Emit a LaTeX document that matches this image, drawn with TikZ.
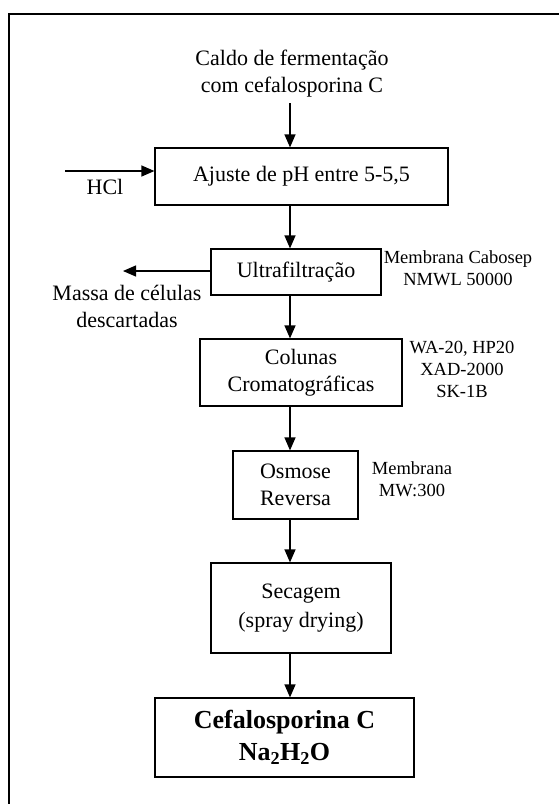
\documentclass[tikz,border=0pt]{standalone}
\usepackage{fontspec}
\setmainfont{Liberation Serif}
\usetikzlibrary{arrows.meta,positioning,calc}

\begin{document}
\begin{tikzpicture}[x=1pt,y=-1pt,
  etapa/.style={draw,line width=1.2pt,align=center,inner sep=0pt,
    font=\fontsize{22}{27}\selectfont},
  nota/.style={align=center,inner sep=0pt,font=\fontsize{18.5}{22}\selectfont},
  texto/.style={align=center,inner sep=0pt,font=\fontsize{22}{27}\selectfont},
  fluxo/.style={-{Triangle[length=13pt,width=11pt]},line width=1.2pt}]
\useasboundingbox (0,0) rectangle (559,804);
% moldura
\draw[line width=1.2pt] (559,14) -- (9,14) -- (9,804);
\coordinate (eixo) at (290,0);
% entrada
\node[texto] (caldo) at (292,74) {Caldo de fermentação\\com cefalosporina C};
% etapas do processo
\node[etapa,minimum width=293pt,minimum height=57pt] (ajuste) at (301.5,176.5) {Ajuste de pH entre 5-5,5};
\node[etapa,minimum width=170pt,minimum height=46pt] (ultra) at (296,272) {Ultrafiltração};
\node[etapa,minimum width=202pt,minimum height=67pt] (colunas) at (301,372.5) {Colunas\\Cromatográficas};
\node[etapa,minimum width=125pt,minimum height=68pt] (osmose) at (295.5,485) {Osmose\\Reversa};
\node[etapa,minimum width=180pt,minimum height=90pt,font=\fontsize{22}{29}\selectfont] (secagem) at (301,608) {Secagem\\(spray drying)};
\node[etapa,minimum width=259pt,minimum height=79pt,font=\fontsize{26}{32}\selectfont\bfseries] (produto) at (284.5,737.5) {Cefalosporina C\\Na\textsubscript{2}H\textsubscript{2}O};
% notas laterais
\node[texto] (hcl) at (105,187) {HCl};
\node[texto] (massa) at (127,306) {Massa de células\\descartadas};
\node[nota] (cabosep) at (458,268) {Membrana Cabosep\\NMWL 50000};
\node[nota] (resinas) at (462,369) {WA-20, HP20\\XAD-2000\\SK-1B};
\node[nota] (mw) at (412,479) {Membrana\\MW:300};
% setas
\coordinate (c0) at (290,103);
\coordinate (h0) at (65,171);
\coordinate (d0) at (123,271);
\draw[fluxo] (c0) -- (c0 |- ajuste.north);
\draw[fluxo] (h0) -- (h0 -| ajuste.west);
\draw[fluxo] (ajuste.south -| eixo) -- (ultra.north -| eixo);
\draw[fluxo] (ultra.west |- d0) -- (d0);
\draw[fluxo] (ultra.south -| eixo) -- (colunas.north -| eixo);
\draw[fluxo] (colunas.south -| eixo) -- (osmose.north -| eixo);
\draw[fluxo] (osmose.south -| eixo) -- (secagem.north -| eixo);
\draw[fluxo] (secagem.south -| eixo) -- (produto.north -| eixo);
\end{tikzpicture}
\end{document}
